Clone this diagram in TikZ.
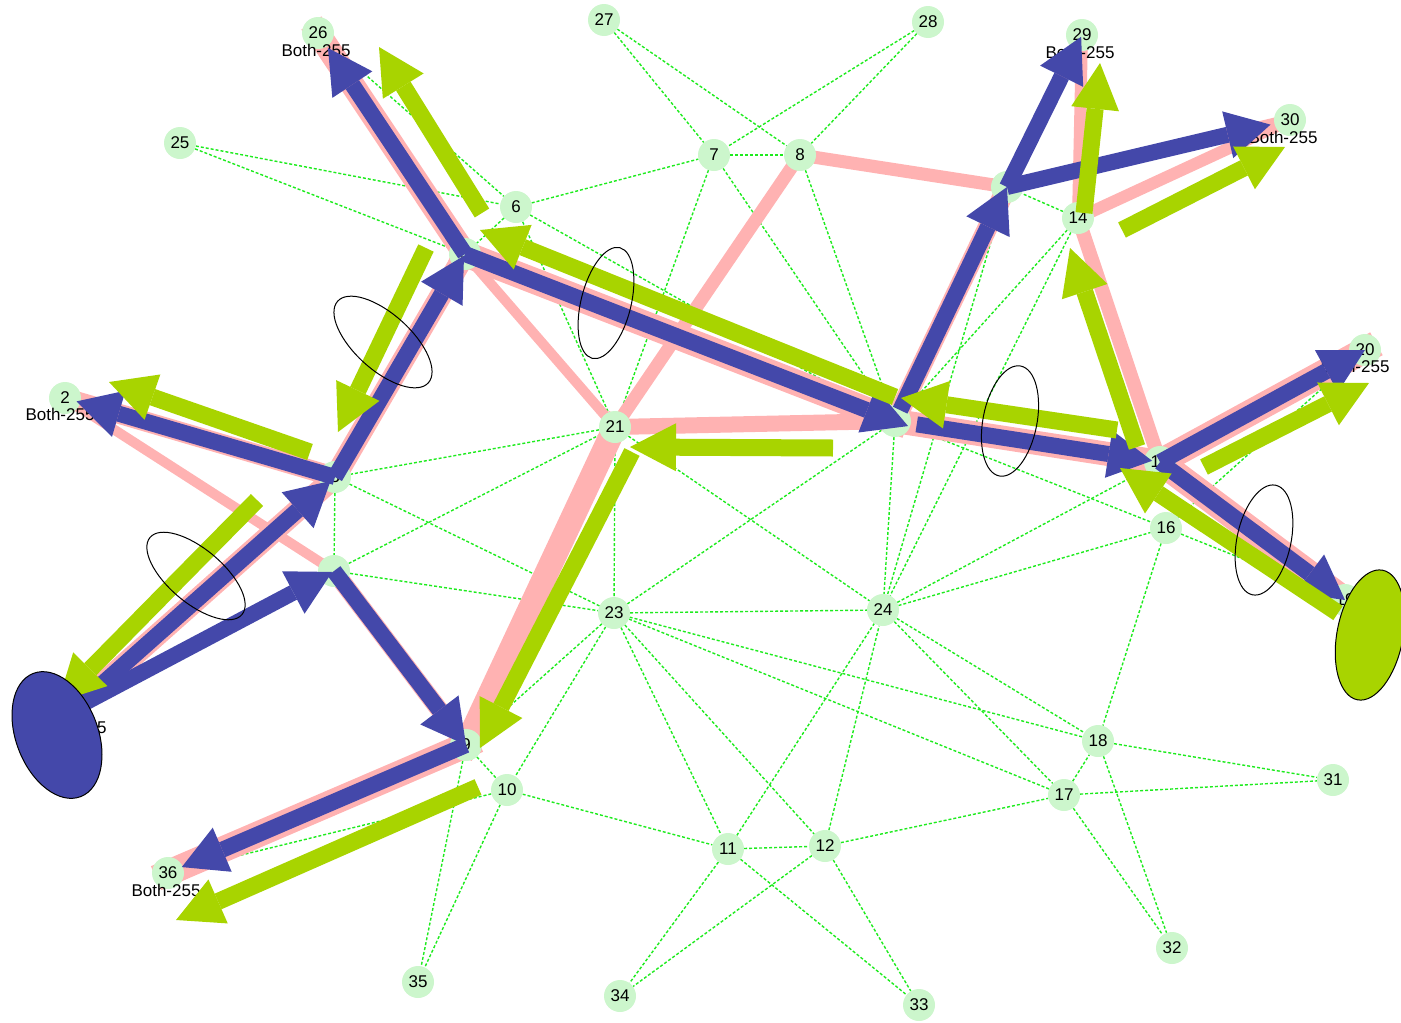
\documentclass[tikz,border=0pt]{standalone}
\usepackage{fontspec}
\setmainfont{Liberation Sans}
\usetikzlibrary{arrows.meta, calc, backgrounds}
\definecolor{RouteBlue}{RGB}{68, 72, 170}
\definecolor{RouteGreen}{RGB}{168, 212, 0}
\definecolor{RoutePink}{RGB}{255, 178, 178}
\definecolor{LinkGreen}{RGB}{30, 235, 30}
\definecolor{VertexFill}{RGB}{204, 246, 204}

\begin{document}
\begin{tikzpicture}[
    x=1pt, y=-1pt,
    font=\fontsize{17}{17}\selectfont,
    vertex/.style={
        circle, fill=VertexFill, minimum size=32pt, inner sep=0pt
    },
    tag/.style={inner sep=0pt},
    link/.style={draw=LinkGreen, line width=1.4pt, dash pattern=on 3pt off 2pt},
    route/.style={draw=RoutePink, line cap=rect},
    barrow/.style={-{Triangle[length=44pt,width=48pt,line width=0pt]}, line width=16pt, draw=RouteBlue},
    garrow/.style={-{Triangle[length=46pt,width=48pt,line width=0pt]}, line width=17pt, draw=RouteGreen},
    ring/.style={draw=black, line width=1pt},
    blob/.style={draw=black, line width=1pt}
]
\useasboundingbox (0,0) rectangle (1401,1023);

% Nodes
\node[vertex] (n1) at (75,708) {1};
\node[vertex] (n2) at (65,398) {2};
\node[vertex] (n3) at (335,477) {3};
\node[vertex] (n4) at (334,571) {};
\node[vertex] (n5) at (465,254) {5};
\node[vertex] (n6) at (516,207) {6};
\node[vertex] (n7) at (714,155) {7};
\node[vertex] (n8) at (800,155) {8};
\node[vertex] (n9) at (466,745) {9};
\node[vertex] (n10) at (507,790) {10};
\node[vertex] (n11) at (728,849) {11};
\node[vertex] (n12) at (825,846) {12};
\node[vertex] (n13) at (1007,187) {};
\node[vertex] (n14) at (1078,218) {14};
\node[vertex] (n15) at (1160,462) {15};
\node[vertex] (n16) at (1166,528) {16};
\node[vertex] (n17) at (1064,795) {17};
\node[vertex] (n18) at (1098,741) {18};
\node[vertex] (n19) at (1345,600) {19};
\node[vertex] (n20) at (1365,350) {20};
\node[vertex] (n21) at (615,427) {21};
\node[vertex] (n22) at (895,421) {};
\node[vertex] (n23) at (614,613) {23};
\node[vertex] (n24) at (883,610) {24};
\node[vertex] (n25) at (180,143) {25};
\node[vertex] (n26) at (318,33) {26};
\node[vertex] (n27) at (604,20) {27};
\node[vertex] (n28) at (928,22) {28};
\node[vertex] (n29) at (1082,35) {29};
\node[vertex] (n30) at (1290,120) {30};
\node[vertex] (n31) at (1333,780) {31};
\node[vertex] (n32) at (1172,948) {32};
\node[vertex] (n33) at (919,1005) {33};
\node[vertex] (n34) at (620,996) {34};
\node[vertex] (n35) at (418,982) {35};
\node[vertex] (n36) at (168,873) {36};

\node[tag] (t1) at (72,727) {Both-255};
\node[tag] (t2) at (60,414) {Both-255};
\node[tag] (t26) at (316,50) {Both-255};
\node[tag] (t29) at (1080,52) {Both-255};
\node[tag] (t30) at (1283,137) {Both-255};
\node[tag] (t20) at (1355,366) {Both-255};
\node[tag] (t36) at (166,890) {Both-255};

% Links
\begin{scope}[on background layer]
\draw[link] (n27) -- (n7);
\draw[link] (n27) -- (n8);
\draw[link] (n28) -- (n7);
\draw[link] (n28) -- (n8);
\draw[link] (n7) -- (n8);
\draw[link] (n6) -- (n7);
\draw[link] (n25) -- (n6);
\draw[link] (n25) -- (n5);
\draw[link] (n26) -- (n6);
\draw[link] (n6) -- (n5);
\draw[link] (n6) -- (n22);
\draw[link] (n6) -- (n21);
\draw[link] (n7) -- (n21);
\draw[link] (n7) -- (n22);
\draw[link] (n8) -- (n22);
\draw[link] (n21) -- (n3);
\draw[link] (n21) -- (n4);
\draw[link] (n21) -- (n23);
\draw[link] (n21) -- (n24);
\draw[link] (n3) -- (n4);
\draw[link] (n3) -- (n23);
\draw[link] (n4) -- (n23);
\draw[link] (n23) -- (n24);
\draw[link] (n22) -- (n23);
\draw[link] (n23) -- (n18);
\draw[link] (n23) -- (n17);
\draw[link] (n23) -- (n11);
\draw[link] (n23) -- (n12);
\draw[link] (n23) -- (n9);
\draw[link] (n23) -- (n10);
\draw[link] (n9) -- (n10);
\draw[link] (n10) -- (n11);
\draw[link] (n10) -- (n35);
\draw[link] (n9) -- (n35);
\draw[link] (n10) -- (n36);
\draw[link] (n11) -- (n12);
\draw[link] (n11) -- (n24);
\draw[link] (n12) -- (n24);
\draw[link] (n11) -- (n33);
\draw[link] (n12) -- (n33);
\draw[link] (n11) -- (n34);
\draw[link] (n12) -- (n34);
\draw[link] (n12) -- (n17);
\draw[link] (n17) -- (n18);
\draw[link] (n17) -- (n31);
\draw[link] (n18) -- (n31);
\draw[link] (n17) -- (n32);
\draw[link] (n18) -- (n32);
\draw[link] (n24) -- (n17);
\draw[link] (n24) -- (n18);
\draw[link] (n24) -- (n16);
\draw[link] (n24) -- (n15);
\draw[link] (n16) -- (n18);
\draw[link] (n22) -- (n16);
\draw[link] (n16) -- (n19);
\draw[link] (n16) -- (n20);
\draw[link] (n14) -- (n13);
\draw[link] (n14) -- (n22);
\draw[link] (n14) -- (n24);
\draw[link] (n13) -- (n24);
\draw[link] (n22) -- (n24);

% Routes
\draw[route, line width=22pt] (n1.center) -- (n3.center);
\draw[route, line width=20pt] (n3.center) -- (n2.center);
\draw[route, line width=10pt] (n2.center) -- (n4.center);
\draw[route, line width=18pt] (n4.center) -- (n9.center);
\draw[route, line width=22pt] (n3.center) -- (n5.center);
\draw[route, line width=24pt] (n5.center) -- (n26.center);
\draw[route, line width=26pt] (n5.center) -- (n22.center);
\draw[route, line width=10pt] (n5.center) -- (n21.center);
\draw[route, line width=16pt] (n21.center) -- (n22.center);
\draw[route, line width=24pt] (n21.center) -- (n9.center);
\draw[route, line width=13pt] (n8.center) -- (n21.center);
\draw[route, line width=13pt] (n8.center) -- (n13.center);
\draw[route, line width=20pt] (n22.center) -- (n13.center);
\draw[route, line width=12pt] (n13.center) -- (n29.center);
\draw[route, line width=12pt] (n13.center) -- (n30.center);
\draw[route, line width=12pt] (n14.center) -- (n29.center);
\draw[route, line width=12pt] (n14.center) -- (n30.center);
\draw[route, line width=14pt] (n14.center) -- (n15.center);
\draw[route, line width=24pt] (n22.center) -- (n15.center);
\draw[route, line width=26pt] (n15.center) -- (n20.center);
\draw[route, line width=26pt] (n15.center) -- (n19.center);
\draw[route, line width=26pt] (n9.center) -- (n36.center);
\end{scope}

% Source side flows
\draw[barrow, shorten >=6pt] (n1.center) -- (n3.center);
\draw[barrow, shorten >=2pt] (n1.center) -- (n4.center);
\draw[barrow, shorten >=12pt] (n3.center) -- (n2.center);
\draw[barrow, shorten >=2pt] (n3.center) -- (n5.center);
\draw[barrow, shorten >=18pt] (n5.center) -- (n26.center);
\draw[barrow, shorten >=-14pt] (n5.center) -- (n22.center);
\draw[barrow] (n4.center) -- (n9.center);
\draw[barrow, shorten >=15pt] (n9.center) -- (n36.center);
\draw[barrow, shorten <=12pt] (n22.center) -- (n13.center);
\draw[barrow, shorten <=22pt, shorten >=8pt] (n22.center) -- (n15.center);
\draw[barrow, shorten >=2pt] (n13.center) -- (n29.center);
\draw[barrow, shorten >=20pt] (n13.center) -- (n30.center);
\draw[barrow] (n15.center) -- (n20.center);
\draw[barrow] (n15.center) -- (n19.center);

% Sink side flows
\draw[garrow] ($(n3)+(-78,23)$) -- ($(n1)+(-17,-6)$);
\draw[garrow] ($(n5)+(-39,-6)$) -- ($(n3)+(3,-45)$);
\draw[garrow] ($(n3)+(-25,-25)$) -- ($(n2)+(44,-16)$);
\draw[garrow] ($(n5)+(17,-41)$) -- ($(n26)+(61,14)$);
\draw[garrow] ($(n22)+(0,-24)$) -- ($(n5)+(15,-24)$);
\draw[garrow] ($(n15)+(-43,-32)$) -- ($(n22)+(6,-23)$);
\draw[garrow] ($(n22)+(-62,27)$) -- ($(n21)+(15,20)$);
\draw[garrow] ($(n21)+(17,25)$) -- ($(n9)+(14,3)$);
\draw[garrow] ($(n9)+(12,42)$) -- ($(n36)+(8,47)$);
\draw[garrow] ($(n19)+(-7,13)$) -- ($(n15)+(-40,6)$);
\draw[garrow] ($(n15)+(-23,-15)$) -- ($(n14)+(-8,30)$);
\draw[garrow] ($(n14)+(6,-5)$) -- ($(n29)+(18,28)$);
\draw[garrow] ($(n14)+(44,12)$) -- ($(n30)+(-5,27)$);
\draw[garrow] ($(n15)+(44,5)$) -- ($(n20)+(4,33)$);

% Cuts
\draw[ring, rotate around={-42:(383,342)}] (383,342) ellipse [x radius=61, y radius=28];
\draw[ring, rotate around={-40:(196,576)}] (196,576) ellipse [x radius=60, y radius=27];
\draw[ring, rotate around={76:(606,303)}] (606,303) ellipse [x radius=57, y radius=25];
\draw[ring, rotate around={79:(1010,421)}] (1010,421) ellipse [x radius=56, y radius=27];
\draw[ring, rotate around={78:(1264,540)}] (1264,540) ellipse [x radius=56, y radius=27];

% Source and sink
\draw[blob, fill=RouteBlue, rotate around={111:(57,735)}] (57,735) ellipse [x radius=66, y radius=41];
\draw[blob, fill=RouteGreen, rotate around={79:(1370,635)}] (1370,635) ellipse [x radius=66, y radius=33];

\end{tikzpicture}
\end{document}
